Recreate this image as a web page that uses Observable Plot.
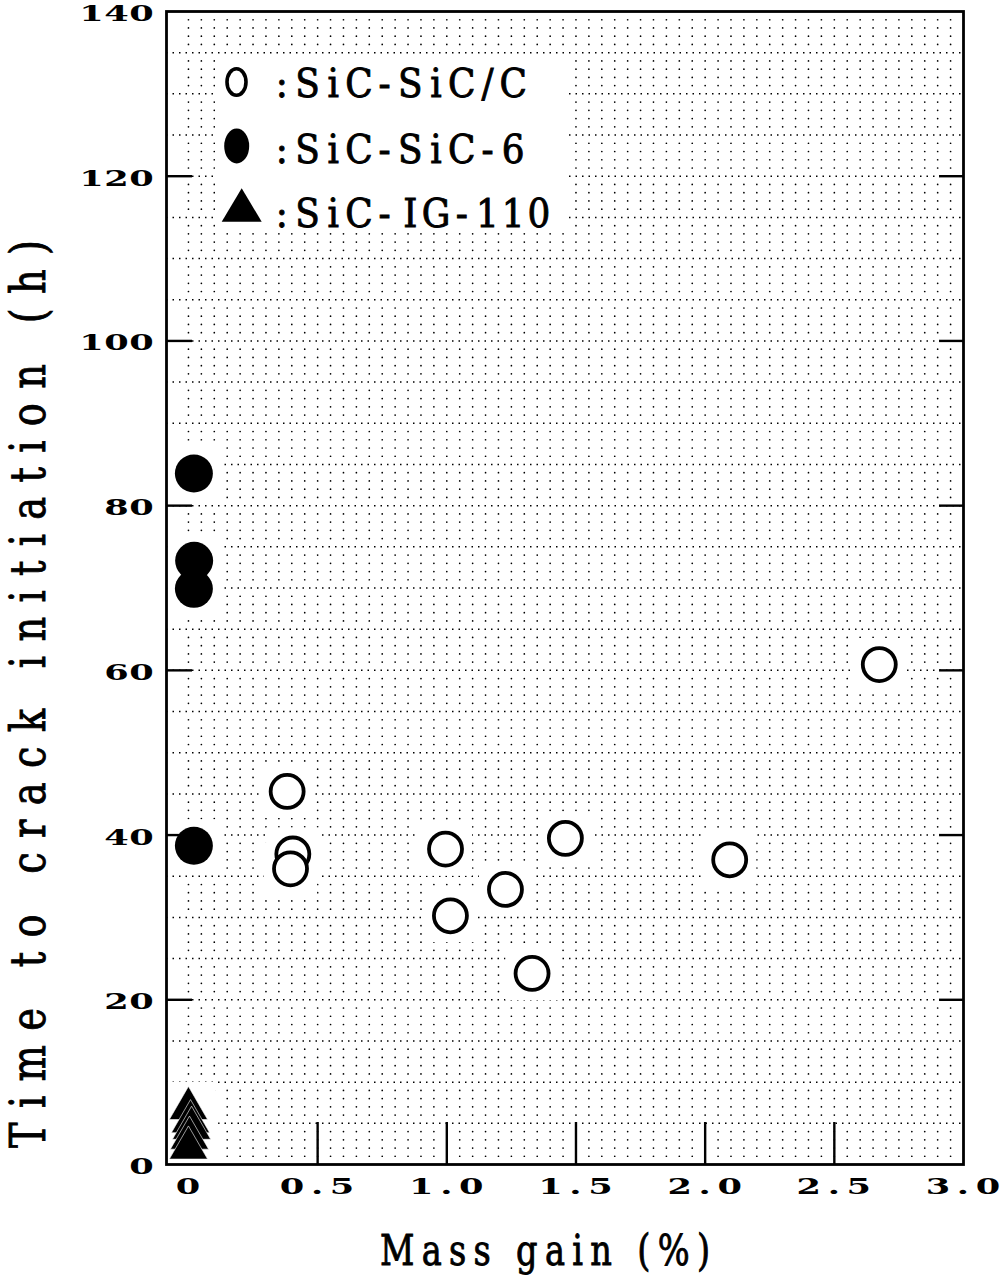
<!DOCTYPE html>
<html><head><meta charset="utf-8">
<script src="https://cdn.jsdelivr.net/npm/d3@7"></script>
<script src="https://cdn.jsdelivr.net/npm/@observablehq/plot@0.6"></script>
<style>
body{margin:0;background:#fff;}
#wrap{position:relative;width:1008px;height:1285px;overflow:hidden;background:#fff;}
#wrap svg.over{position:absolute;left:0;top:0;pointer-events:none;}
</style></head><body><div id="wrap"></div>
<script>
// ---- data ----
const xTickVals = [0, 0.5, 1.0, 1.5, 2.0, 2.5, 3.0];
const xTickLabels = ["0", "0.5", "1.0", "1.5", "2.0", "2.5", "3.0"];
const yTickVals = [0, 20, 40, 60, 80, 100, 120, 140];
const xMajor = [0.5, 1.0, 1.5, 2.0, 2.5];
const yMajor = [20, 40, 60, 80, 100, 120];
// SiC-SiC/C (open circles)
const sicCX = [0.382, 0.404, 0.395, 0.995, 1.014, 1.227, 1.459, 1.330, 2.095, 2.674];
const sicCY = [45.3, 37.7, 35.9, 38.3, 30.2, 33.4, 39.6, 23.2, 37.0, 60.7];
// SiC-SiC-6 (filled circles)
const sic6X = [0.021, 0.022, 0.021, 0.021];
const sic6Y = [83.9, 73.3, 69.9, 38.7];
// SiC-IG-110 (filled triangles)
const igX = [0.000, 0.008, 0.012, 0.004, 0.000];
const igY = [6.8, 5.2, 4.4, 3.2, 2.0];
const legendLabels = [":SiC-SiC/C", ":SiC-SiC-6", ":SiC-IG-110"];
const xLabel = "Mass gain (%)";
const yLabel = "Time to crack initiation (h)";

// ---- build ----
const W = 1008, H = 1285, ML = 166, MR = 45, MT = 11, MB = 121;
const FW = W - ML - MR, FH = H - MT - MB;
const openPts = sicCX.map((x, i) => ({x, y: sicCY[i]}));
const fillPts = sic6X.map((x, i) => ({x, y: sic6Y[i]}));
const triPts = igX.map((x, i) => ({x, y: igY[i]}));
const allPts = [...openPts, ...fillPts, ...triPts];

const gridXs = d3.range(0, 60).map(i => i * 0.05);
const gridYs = d3.range(1, 140).filter(v => v % 5 !== 0);
const gridPts = [];
for (const gx of gridXs) for (const gy of gridYs) gridPts.push({x: gx, y: gy});
const dottedYs = d3.range(5, 140, 5);

const chart = Plot.plot({
  width: W, height: H,
  marginLeft: ML, marginRight: MR, marginTop: MT, marginBottom: MB,
  x: {domain: [-0.085, 3.0], axis: null},
  y: {domain: [0, 140], axis: null},
  style: {background: "white", overflow: "visible"},
  marks: [
    Plot.dot(gridPts, {x: "x", y: "y", r: 0.85, fill: "black", stroke: "none"}),
    Plot.ruleY(dottedYs, {stroke: "black", strokeWidth: 1.5, strokeDasharray: "1.5,5"}),
    Plot.dot(allPts, {x: "x", y: "y", symbol: "square", r: 30, fill: "white", stroke: "none"}),
    Plot.ruleY(yMajor, {stroke: "black", strokeWidth: 2.4, insetRight: FW - 26}),
    Plot.ruleY(yMajor, {stroke: "black", strokeWidth: 2.4, insetLeft: FW - 24}),
    Plot.ruleX(xMajor, {stroke: "black", strokeWidth: 2.4, insetTop: FH - 42}),
    Plot.frame({stroke: "black", strokeWidth: 2.8}),
    Plot.dot(openPts, {x: "x", y: "y", r: 16.5, fill: "white", stroke: "black", strokeWidth: 3.8}),
    Plot.dot(fillPts, {x: "x", y: "y", r: 19, fill: "black", stroke: "none"}),
    Plot.dot(triPts, {x: "x", y: "y", symbol: "triangle", r: 14.2, fill: "black", stroke: "white", strokeWidth: 0.6})
  ]
});
const wrap = document.getElementById("wrap");
wrap.appendChild(chart);
const sx = chart.scale("x"), sy = chart.scale("y");

// overlay: tick labels, axis titles + legend
const NS = "http://www.w3.org/2000/svg";
const ov = document.createElementNS(NS, "svg");
ov.setAttribute("class", "over");
ov.setAttribute("width", W); ov.setAttribute("height", H);
function el(tag, attrs, parent) {
  const e = document.createElementNS(NS, tag);
  for (const k in attrs) e.setAttribute(k, attrs[k]);
  (parent || ov).appendChild(e);
  return e;
}
// draw a string on a fixed character grid (monospaced look)
function mono(str, transform, cell, size, stretch, weight, sw) {
  const g = el("g", {transform: transform + ` scale(${stretch},1)`});
  const attrs = {"text-anchor": "middle", "font-family": "DejaVu Serif", "font-weight": weight,
    "font-size": size, fill: "black"};
  if (sw) { attrs.stroke = "black"; attrs["stroke-width"] = sw; }
  const t = el("text", attrs, g);
  [...str].forEach((ch, i) => {
    const sp = el("tspan", {x: ((i + 0.5) * cell / stretch).toFixed(2), y: 0}, t);
    sp.textContent = ch;
  });
  return g;
}
const TC = 25; // tick label cell width
yTickVals.forEach(v => {
  const s = String(v);
  mono(s, `translate(${154 - s.length * TC},${(sy.apply(v) + 10).toFixed(2)})`, TC, 22, 1.6, "bold");
});
xTickVals.forEach((v, i) => {
  const s = xTickLabels[i];
  mono(s, `translate(${(sx.apply(v) - s.length * TC / 2).toFixed(2)},1194)`, TC, 22, 1.6, "bold");
});
// axis titles (condensed glyphs, open spacing)
const CX = 0.8;
const gx = el("g", {transform: `translate(380,1265) scale(${CX},1)`});
const xl = el("text", {x: 0, y: 0, "font-family": "DejaVu Serif", "font-weight": "normal", "font-size": 42,
  stroke: "black", "stroke-width": 0.9, textLength: (330 / CX).toFixed(1), lengthAdjust: "spacing"}, gx);
xl.textContent = xLabel;
const gy = el("g", {transform: `translate(45,1148) rotate(-90) scale(${CX},1)`});
const yl = el("text", {x: 0, y: 0, "font-family": "DejaVu Serif", "font-weight": "normal", "font-size": 48,
  stroke: "black", "stroke-width": 0.9, textLength: (908 / CX).toFixed(1), lengthAdjust: "spacing"}, gy);
yl.textContent = yLabel;

// legend box
el("rect", {x: 215, y: 55, width: 350, height: 177, fill: "white"});
el("ellipse", {cx: 236.5, cy: 82, rx: 9.5, ry: 13.3, fill: "none", stroke: "black", "stroke-width": 3.6});
el("ellipse", {cx: 236.7, cy: 146, rx: 12.5, ry: 17.5, fill: "black"});
el("polygon", {points: "221.7,221.7 261.7,221.7 241.7,188.3", fill: "black"});
const baselines = [97, 163, 227];
legendLabels.forEach((s, i) => {
  mono(s, `translate(269,${baselines[i]})`, 25.7, 39, 0.92, "normal", 0.9);
});
wrap.appendChild(ov);
</script>
</body></html>
